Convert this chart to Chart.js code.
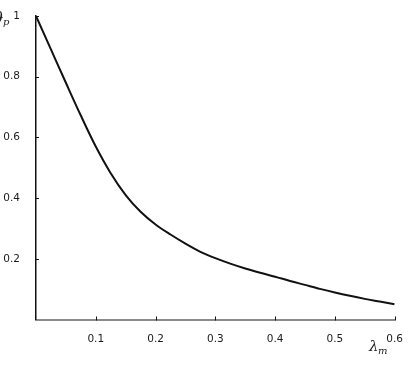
<!DOCTYPE html>
<html>
<head>
<meta charset="utf-8">
<script src="https://cdn.jsdelivr.net/npm/chart.js@4/dist/chart.umd.min.js"></script>
<style>
  html, body { margin: 0; padding: 0; background: #fff; }
  #wrap { width: 408px; height: 365px; position: relative; }
</style>
</head>
<body>
<div id="wrap"><canvas id="c"></canvas></div>
<script>
// lambda_m values and the curve
const lambdaM = [0, 0.025, 0.05, 0.075, 0.1, 0.125, 0.15, 0.175, 0.2, 0.225, 0.25, 0.275, 0.3,
  0.325, 0.35, 0.375, 0.4, 0.425, 0.45, 0.475, 0.5, 0.525, 0.55, 0.575, 0.6];
const thetaP = [1.0, 0.89, 0.78, 0.672, 0.57, 0.482, 0.41, 0.355, 0.313, 0.28, 0.25, 0.223, 0.202,
  0.184, 0.168, 0.154, 0.141, 0.127, 0.114, 0.101, 0.089, 0.078, 0.068, 0.059, 0.05];
const xTicks = [0.1, 0.2, 0.3, 0.4, 0.5, 0.6];
const yTicks = [0.2, 0.4, 0.6, 0.8, 1];

const points = lambdaM.map((x, i) => ({ x: x, y: thetaP[i] }));

// short inward ticks + axis titles
const axisDecor = {
  id: "axisDecor",
  afterDraw(chart) {
    const { ctx, chartArea } = chart;
    const xs = chart.scales.x;
    const ys = chart.scales.y;
    ctx.save();
    ctx.strokeStyle = "#111";
    ctx.lineWidth = 1;
    xTicks.forEach((v) => {
      const px = Math.round(xs.getPixelForValue(v)) + 0.5;
      ctx.beginPath();
      ctx.moveTo(px, chartArea.bottom - 3);
      ctx.lineTo(px, chartArea.bottom + 1);
      ctx.stroke();
    });
    yTicks.forEach((v) => {
      const py = Math.round(ys.getPixelForValue(v)) + 0.5;
      ctx.beginPath();
      ctx.moveTo(chartArea.left, py);
      ctx.lineTo(chartArea.left + 3, py);
      ctx.stroke();
    });

    ctx.fillStyle = "#222";
    ctx.textAlign = "left";
    ctx.textBaseline = "alphabetic";
    ctx.font = "italic 16px 'DejaVu Serif'";
    ctx.fillText("ϑ", -8, 24);
    ctx.font = "italic 10px 'DejaVu Serif'";
    ctx.fillText("p", 3, 25);

    ctx.font = "italic 15px 'DejaVu Serif'";
    ctx.fillText("λ", 369, 351);
    ctx.font = "italic 10px 'DejaVu Serif'";
    ctx.fillText("m", 378, 354);
    ctx.restore();
  },
};

new Chart(document.getElementById("c"), {
  type: "line",
  data: {
    datasets: [
      {
        data: points,
        borderColor: "#111",
        borderWidth: 2,
        pointRadius: 0,
        cubicInterpolationMode: "monotone",
        fill: false,
      },
    ],
  },
  options: {
    responsive: true,
    maintainAspectRatio: false,
    animation: false,
    layout: { padding: { top: 16, right: 10, left: 0, bottom: 0 } },
    plugins: { legend: { display: false }, tooltip: { enabled: false } },
    scales: {
      x: {
        type: "linear",
        min: 0,
        max: 0.6,
        afterBuildTicks: (s) => { s.ticks = xTicks.map((v) => ({ value: v })); },
        afterFit: (s) => { s.height = 45.5; },
        grid: { display: false },
        border: { display: true, color: "#8a8a8a", width: 2 },
        ticks: {
          color: "#1a1a1a",
          padding: 5,
          maxRotation: 0,
          font: { family: "'DejaVu Sans'", size: 10.5 },
          callback: (v) => String(v),
        },
      },
      y: {
        min: 0,
        max: 1,
        afterBuildTicks: (s) => { s.ticks = yTicks.map((v) => ({ value: v })); },
        afterFit: (s) => { s.width = 36; },
        grid: { display: false },
        border: { display: true, color: "#111", width: 1.5 },
        ticks: {
          color: "#1a1a1a",
          padding: 8,
          font: { family: "'DejaVu Sans'", size: 10.5 },
          callback: (v) => String(v),
        },
      },
    },
  },
  plugins: [axisDecor],
});
</script>
</body>
</html>
